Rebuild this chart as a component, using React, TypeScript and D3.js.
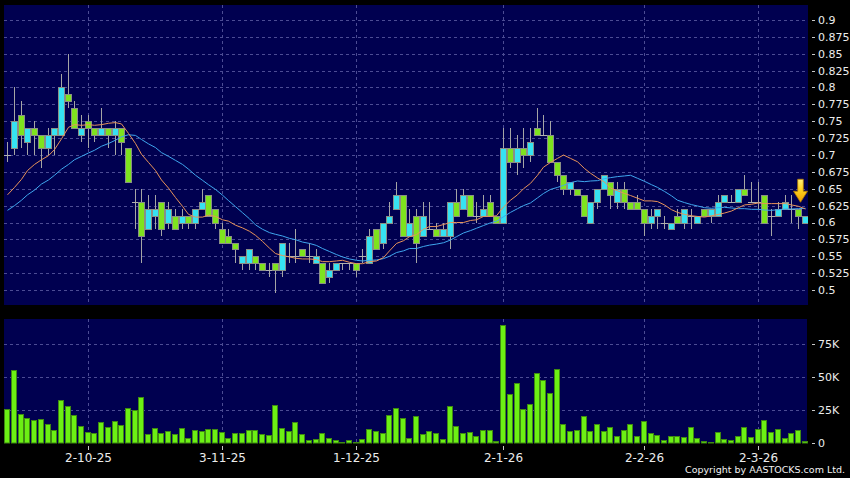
import React from "react";
import * as d3 from "d3";

// ---- data (prices in HKD, volumes in thousands) ----
const opens = [
  0.70, 0.71, 0.76, 0.72, 0.74, 0.73, 0.71, 0.73, 0.73, 0.79,
  0.77, 0.73, 0.75, 0.74, 0.73, 0.74, 0.73, 0.74, 0.71, 0.63,
  0.63, 0.59, 0.61, 0.63, 0.60, 0.61, 0.60, 0.61, 0.60, 0.62,
  0.64, 0.62, 0.59, 0.58, 0.57, 0.54, 0.54, 0.55, 0.54, 0.53,
  0.54, 0.53, 0.55, 0.55, 0.56, 0.55, 0.54, 0.54, 0.52, 0.53,
  0.54, 0.54, 0.54, 0.55, 0.54, 0.59, 0.57, 0.60, 0.62, 0.64,
  0.58, 0.61, 0.58, 0.59, 0.59, 0.58, 0.58, 0.63, 0.62, 0.64,
  0.61, 0.61, 0.63, 0.61, 0.60, 0.71, 0.69, 0.71, 0.70, 0.74,
  0.73, 0.73, 0.69, 0.67, 0.65, 0.65, 0.64, 0.60, 0.63, 0.65,
  0.66, 0.63, 0.65, 0.63, 0.63, 0.62, 0.60, 0.61, 0.60, 0.59,
  0.61, 0.60, 0.61, 0.60, 0.62, 0.61, 0.61, 0.63, 0.63, 0.63,
  0.65, 0.63, 0.63, 0.64, 0.61, 0.61, 0.62, 0.62, 0.62, 0.60,
];
const highs = [
  0.72, 0.80, 0.78, 0.74, 0.75, 0.73, 0.74, 0.74, 0.82, 0.85,
  0.78, 0.76, 0.76, 0.74, 0.77, 0.74, 0.75, 0.74, 0.71, 0.65,
  0.65, 0.64, 0.64, 0.63, 0.63, 0.62, 0.62, 0.61, 0.62, 0.65,
  0.64, 0.62, 0.60, 0.59, 0.57, 0.55, 0.56, 0.55, 0.54, 0.54,
  0.54, 0.57, 0.57, 0.59, 0.56, 0.57, 0.56, 0.54, 0.54, 0.54,
  0.54, 0.54, 0.54, 0.56, 0.59, 0.59, 0.60, 0.63, 0.66, 0.64,
  0.62, 0.62, 0.63, 0.63, 0.60, 0.60, 0.63, 0.65, 0.65, 0.64,
  0.63, 0.64, 0.64, 0.61, 0.74, 0.74, 0.73, 0.74, 0.74, 0.77,
  0.76, 0.75, 0.69, 0.67, 0.66, 0.65, 0.64, 0.63, 0.65, 0.67,
  0.66, 0.66, 0.66, 0.63, 0.64, 0.62, 0.62, 0.62, 0.61, 0.60,
  0.62, 0.62, 0.62, 0.61, 0.62, 0.62, 0.64, 0.64, 0.64, 0.65,
  0.67, 0.66, 0.66, 0.64, 0.62, 0.63, 0.64, 0.64, 0.62, 0.61,
];
const lows = [
  0.69, 0.70, 0.71, 0.70, 0.70, 0.68, 0.70, 0.70, 0.73, 0.77,
  0.74, 0.72, 0.71, 0.72, 0.73, 0.71, 0.70, 0.70, 0.66, 0.59,
  0.54, 0.59, 0.59, 0.58, 0.59, 0.59, 0.59, 0.59, 0.59, 0.62,
  0.61, 0.59, 0.57, 0.57, 0.54, 0.53, 0.53, 0.53, 0.53, 0.52,
  0.495, 0.52, 0.54, 0.54, 0.55, 0.54, 0.54, 0.51, 0.51, 0.53,
  0.53, 0.53, 0.52, 0.54, 0.54, 0.56, 0.56, 0.60, 0.62, 0.58,
  0.58, 0.54, 0.58, 0.59, 0.58, 0.58, 0.56, 0.61, 0.62, 0.61,
  0.60, 0.61, 0.61, 0.60, 0.60, 0.68, 0.67, 0.68, 0.69, 0.73,
  0.73, 0.69, 0.66, 0.64, 0.64, 0.64, 0.61, 0.60, 0.62, 0.65,
  0.62, 0.62, 0.62, 0.62, 0.62, 0.58, 0.59, 0.59, 0.59, 0.59,
  0.60, 0.59, 0.59, 0.60, 0.61, 0.60, 0.61, 0.63, 0.63, 0.63,
  0.64, 0.63, 0.62, 0.60, 0.58, 0.61, 0.62, 0.60, 0.59, 0.60,
];
const closes = [
  0.70, 0.75, 0.73, 0.74, 0.73, 0.71, 0.73, 0.74, 0.80, 0.78,
  0.74, 0.74, 0.74, 0.73, 0.74, 0.73, 0.74, 0.72, 0.66, 0.63,
  0.58, 0.62, 0.62, 0.59, 0.62, 0.59, 0.61, 0.60, 0.62, 0.63,
  0.61, 0.60, 0.57, 0.57, 0.56, 0.55, 0.56, 0.54, 0.53, 0.53,
  0.53, 0.57, 0.55, 0.55, 0.55, 0.55, 0.55, 0.51, 0.53, 0.54,
  0.54, 0.54, 0.53, 0.55, 0.58, 0.56, 0.60, 0.61, 0.64, 0.58,
  0.60, 0.57, 0.61, 0.59, 0.58, 0.59, 0.63, 0.61, 0.64, 0.61,
  0.61, 0.62, 0.61, 0.60, 0.71, 0.69, 0.71, 0.70, 0.72, 0.73,
  0.73, 0.69, 0.67, 0.65, 0.66, 0.64, 0.61, 0.63, 0.65, 0.67,
  0.64, 0.65, 0.63, 0.62, 0.62, 0.60, 0.61, 0.62, 0.60, 0.60,
  0.60, 0.62, 0.61, 0.61, 0.61, 0.62, 0.63, 0.64, 0.63, 0.65,
  0.64, 0.63, 0.63, 0.60, 0.61, 0.62, 0.63, 0.62, 0.61, 0.61,
];
const volumesK = [
  25.8, 55.3, 21.7, 19.2, 17.2, 18.2, 14.6, 9.6, 32.8, 27.8,
  21.5, 13.1, 8.1, 7.6, 15.9, 12.1, 16.4, 13.4, 26.3, 24.7,
  35.1, 7.1, 11.6, 7.3, 8.8, 6.8, 11.4, 4.0, 9.8, 9.1,
  10.4, 10.4, 8.1, 3.5, 7.8, 7.6, 9.8, 9.8, 7.1, 5.8,
  28.8, 11.4, 9.1, 15.9, 6.8, 2.0, 3.0, 7.6, 4.0, 2.3,
  0.8, 2.0, 0.8, 3.0, 10.6, 9.3, 7.6, 21.5, 26.3, 18.7,
  3.5, 20.2, 6.8, 9.1, 7.6, 2.8, 28.0, 12.9, 7.8, 8.3,
  5.6, 9.8, 9.8, 1.8, 89.4, 37.4, 45.5, 25.5, 29.8, 52.8,
  47.5, 38.1, 55.8, 14.1, 8.8, 10.1, 20.5, 9.1, 14.1, 8.8,
  12.4, 5.3, 9.8, 14.1, 5.6, 16.4, 7.8, 5.8, 2.0, 5.1,
  5.6, 4.8, 12.4, 4.0, 1.8, 0.8, 8.6, 3.3, 2.3, 5.6,
  11.9, 4.3, 10.6, 17.2, 8.1, 10.9, 4.0, 7.8, 9.6, 1.3,
];
const ma10Lead = [0.641, 0.652, 0.664, 0.677, 0.686, 0.693, 0.699, 0.708, 0.724];
const ma20Lead = [
  0.618, 0.625, 0.633, 0.641, 0.648, 0.657, 0.663, 0.670, 0.679, 0.686,
  0.693, 0.698, 0.703, 0.707, 0.713, 0.717, 0.722, 0.727, 0.730,
];
const priceTicks = [
  0.5, 0.525, 0.55, 0.575, 0.6, 0.625, 0.65, 0.675, 0.7,
  0.725, 0.75, 0.775, 0.8, 0.825, 0.85, 0.875, 0.9,
];
const volumeTicks = [0, 25000, 50000, 75000];
const volumeTickLabels = ["0", "25K", "50K", "75K"];
const dateTickIndex = [12, 32, 52, 74, 95, 112];
const dateTickLabels = ["2-10-25", "3-11-25", "1-12-25", "2-1-26", "2-2-26", "2-3-26"];

// ---- layout ----
const W = 850;
const H = 478;
const PL = 4;
const PR = 808;
const MAIN_T = 5;
const MAIN_B = 305;
const VOL_T = 319;
const VOL_B = 443;

const FONT = "'DejaVu Sans', Verdana, sans-serif";
const NAVY = "#000050";
const GRID = "#4c4c94";
const CYAN = "#36e2f2";
const GREEN = "#7ee31e";
const VOLGREEN = "#6cf014";
const ORANGE = "#e8935a";
const BLUE = "#3fa6ee";

function movingAverage(values: number[], len: number, lead: number[]) {
  return values.map((_, i) =>
    i >= len - 1 ? (d3.mean(values.slice(i - len + 1, i + 1)) as number) : lead[i]
  );
}

export default function App() {
  const n = closes.length;
  const x = d3.scaleBand<number>().domain(d3.range(n)).range([PL, PR]);
  const cx = (i: number) => Math.round((x(i) as number) + x.bandwidth() / 2);
  const y = d3.scaleLinear().domain([0.5, 0.9]).range([290, 20]);
  const yv = d3.scaleLinear().domain([0, 75000]).range([VOL_B, 344]);

  const ma10 = movingAverage(closes, 10, ma10Lead);
  const ma20 = movingAverage(closes, 20, ma20Lead);
  const line = d3
    .line<number>()
    .x((_, i) => cx(i) + 0.5)
    .y((d) => y(d));

  const last = n - 1;
  const ax = cx(last) - 4.5;
  const tipY = y(0.63);
  const arrowPath = [
    `M${ax - 2.8},${tipY - 23}`,
    `L${ax + 2.8},${tipY - 23}`,
    `L${ax + 2.8},${tipY - 11}`,
    `L${ax + 7},${tipY - 11}`,
    `L${ax},${tipY}`,
    `L${ax - 7},${tipY - 11}`,
    `L${ax - 2.8},${tipY - 11}`,
    "Z",
  ].join(" ");

  return (
    <svg
      width={W}
      height={H}
      style={{ position: "absolute", left: 0, top: 0, display: "block" }}
      fontFamily={FONT}
    >
      <defs>
        <clipPath id="mainClip">
          <rect x={PL} y={MAIN_T} width={PR - PL} height={MAIN_B - MAIN_T} />
        </clipPath>
        <linearGradient id="arrowGrad" x1="0" y1="0" x2="0" y2="1">
          <stop offset="0" stopColor="#fff07a" />
          <stop offset="0.45" stopColor="#ffd21e" />
          <stop offset="1" stopColor="#f0a000" />
        </linearGradient>
      </defs>
      <rect x={0} y={0} width={W} height={H} fill="#000" />

      {/* main panel */}
      <rect x={PL} y={MAIN_T} width={PR - PL} height={MAIN_B - MAIN_T} fill={NAVY} />
      {priceTicks.map((t) => (
        <line
          key={"hg" + t}
          x1={PL}
          x2={PR}
          y1={Math.round(y(t)) + 0.5}
          y2={Math.round(y(t)) + 0.5}
          stroke={GRID}
          strokeDasharray="3,3"
        />
      ))}
      {dateTickIndex.map((i) => (
        <line
          key={"vg" + i}
          x1={cx(i) + 0.5}
          x2={cx(i) + 0.5}
          y1={MAIN_T}
          y2={MAIN_B}
          stroke={GRID}
          strokeDasharray="3,3"
        />
      ))}

      <g clipPath="url(#mainClip)">
        {closes.map((c, i) => {
          const o = opens[i];
          const xc = cx(i);
          const top = Math.round(y(Math.max(o, c)));
          const bot = Math.round(y(Math.min(o, c)));
          return (
            <g key={"c" + i}>
              <line
                x1={xc + 0.5}
                x2={xc + 0.5}
                y1={Math.round(y(highs[i]))}
                y2={Math.round(y(lows[i]))}
                stroke="#a5a5a5"
              />
              {o === c ? (
                <line x1={xc - 3} x2={xc + 4} y1={top + 0.5} y2={top + 0.5} stroke="#b0b0b0" />
              ) : (
                <rect
                  x={xc - 2.5}
                  y={top + 0.5}
                  width={6}
                  height={Math.max(1, bot - top)}
                  fill={c > o ? CYAN : GREEN}
                  stroke="#8a8f86"
                />
              )}
            </g>
          );
        })}
        <path d={line(ma20) || ""} fill="none" stroke={BLUE} strokeWidth={1} />
        <path d={line(ma10) || ""} fill="none" stroke={ORANGE} strokeWidth={1} />
        <path d={arrowPath} fill="url(#arrowGrad)" stroke="#b37a00" strokeWidth={0.8} />
      </g>

      {priceTicks.map((t) => (
        <g key={"yl" + t}>
          <line x1={812} x2={815} y1={Math.round(y(t)) + 0.5} y2={Math.round(y(t)) + 0.5} stroke="#c8c8c8" />
          <text x={818} y={y(t)} dy="0.36em" fontSize={11} fill="#ececec">
            {String(+t.toFixed(3))}
          </text>
        </g>
      ))}

      {/* volume panel */}
      <rect x={PL} y={VOL_T} width={PR - 1 - PL} height={VOL_B - VOL_T} fill={NAVY} />
      {volumeTicks.slice(1).map((t) => (
        <line
          key={"vh" + t}
          x1={PL}
          x2={PR - 1}
          y1={Math.round(yv(t)) + 0.5}
          y2={Math.round(yv(t)) + 0.5}
          stroke={GRID}
          strokeDasharray="3,3"
        />
      ))}
      {dateTickIndex.map((i) => (
        <line
          key={"vv" + i}
          x1={cx(i) + 0.5}
          x2={cx(i) + 0.5}
          y1={VOL_T}
          y2={VOL_B}
          stroke={GRID}
          strokeDasharray="3,3"
        />
      ))}
      {volumesK.map((v, i) => {
        const top = Math.round(yv(v * 1000));
        return (
          <rect
            key={"v" + i}
            x={cx(i) - 2.5}
            y={top + 0.5}
            width={5}
            height={Math.max(0.5, VOL_B - top - 0.5)}
            fill={VOLGREEN}
            stroke="#3f8a12"
          />
        );
      })}
      {volumeTicks.map((t, k) => (
        <g key={"vl" + t}>
          <line x1={812} x2={815} y1={Math.round(yv(t)) + 0.5} y2={Math.round(yv(t)) + 0.5} stroke="#c8c8c8" />
          <text x={818} y={yv(t)} dy="0.36em" fontSize={11} fill="#ececec">
            {volumeTickLabels[k]}
          </text>
        </g>
      ))}

      {/* date axis */}
      {dateTickIndex.map((i, k) => (
        <g key={"dt" + i}>
          <line x1={cx(i) + 0.5} x2={cx(i) + 0.5} y1={446} y2={450} stroke="#c8c8c8" />
          <text x={cx(i) + 0.5} y={462} fontSize={12} fill="#ececec" textAnchor="middle">
            {dateTickLabels[k]}
          </text>
        </g>
      ))}

      <text x={845} y={473} fontSize={9.5} fill="#f2f2f2" textAnchor="end">
        Copyright by AASTOCKS.com Ltd.
      </text>
    </svg>
  );
}
